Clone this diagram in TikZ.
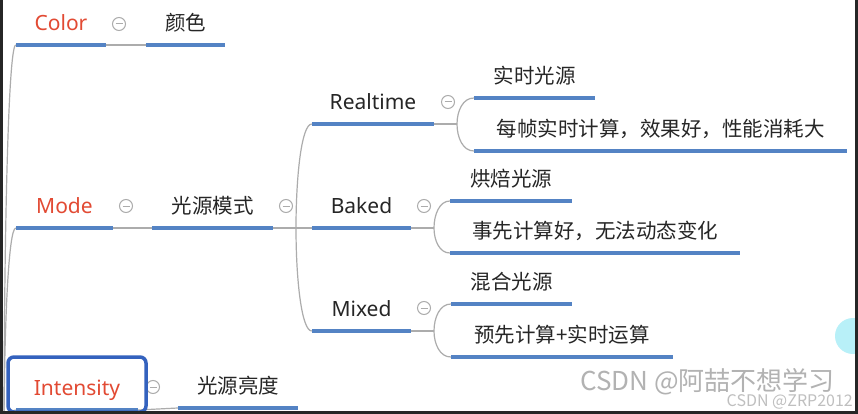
\documentclass[tikz,border=0pt]{standalone}
\usepackage{fontspec}
\setmainfont{Noto Sans}
\newfontfamily\cjk{Noto Sans CJK SC}
\usepackage{tikz}
\usetikzlibrary{positioning, calc}

\definecolor{topicred}{RGB}{226,74,51}
\definecolor{lineblue}{RGB}{84,131,196}
\definecolor{branchgray}{RGB}{172,172,172}
\definecolor{selblue}{RGB}{52,98,190}
\definecolor{hintcyan}{RGB}{184,240,248}

\begin{document}
\begin{tikzpicture}[x=1pt, y=-1pt,
    topic/.style={anchor=south, inner sep=0pt, text height=16pt, text depth=14pt,
      font=\fontsize{21}{24}\selectfont, text=black!85},
    key/.style={topic, text=topicred},
    sub/.style={topic, font=\cjk\fontsize{20.5}{24}\selectfont},
    uline/.style={lineblue, line width=4pt},
    branch/.style={branchgray, line width=1.2pt},
    twig/.style={to path={.. controls ($(\tikztostart)!0.5!(\tikztostart |- \tikztotarget)$)
      and ($(\tikztostart |- \tikztotarget)!0.35!(\tikztotarget)$) .. (\tikztotarget)}},
    fold/.style={circle, draw=branchgray, fill=white, line width=1pt, minimum size=13pt,
      inner sep=0pt, path picture={\draw[branchgray, line width=1pt]
      ([xshift=-3.5pt]path picture bounding box.center) -- ([xshift=3.5pt]path picture bounding box.center);}},
    wmtext/.style={inner sep=0pt, text=black!30, font=\cjk\fontsize{26}{28}\selectfont},
    wmsmall/.style={inner sep=0pt, text=black!25, font=\cjk\fontsize{16}{18}\selectfont}]

    \useasboundingbox (0,0) rectangle (858,414);
    \clip (0,0) rectangle (858,414);
    \fill[white] (0,0) rectangle (858,414);

    % Ветки первого уровня
    \node[key, minimum width=90] (color) at (61,45) {Color};
    \node[sub, minimum width=79] (yanse) at (185.5,45) {颜色};
    \node[key, minimum width=97] (mode) at (64.5,228) {Mode};
    \node[sub, minimum width=121] (gyms) at (212.5,228) {光源模式};
    \node[key, minimum width=122] (intensity) at (77,410) {Intensity};
    \node[sub, minimum width=120] (gyld) at (238,408) {光源亮度};

    % Режимы
    \node[topic, minimum width=122] (realtime) at (373,124) {Realtime};
    \node[topic, minimum width=99] (baked) at (361.5,228) {Baked};
    \node[topic, minimum width=99] (mixed) at (361.5,331) {Mixed};

    % Пояснения
    \node[sub, minimum width=121] (ssgy) at (534.5,98) {实时光源};
    \node[sub, minimum width=373] (rtdesc) at (660.5,151) {每帧实时计算，效果好，性能消耗大};
    \node[sub, minimum width=122] (hbgy) at (511,201) {烘焙光源};
    \node[sub, minimum width=290] (bkdesc) at (595,253) {事先计算好，无法动态变化};
    \node[sub, minimum width=121] (hhgy) at (511.5,304) {混合光源};
    \node[sub, minimum width=222] (mxdesc) at (562,357) {预先计算+实时运算};

    % Точки ветвления
    \coordinate (root) at (4,440);
    \coordinate (jmode) at (296,228);
    \coordinate (jrt) at (457,124);
    \coordinate (jbk) at (434,228);
    \coordinate (jmx) at (434,331);

    % Связи
    \foreach \n in {color, mode, intensity}
        \draw[branch] (root) to[twig] (\n.south west);
    \draw[branch] (color.south east) -- (yanse.south west);
    \draw[branch] (mode.south east) -- (gyms.south west);
    \draw[branch] (intensity.south east) -- (gyld.south west);
    \draw[branch] (gyms.south east) -- (baked.south west);
    \foreach \n in {realtime, mixed}
        \draw[branch] (jmode) to[twig] (\n.south west);
    \draw[branch] (realtime.south east) -- (jrt);
    \draw[branch] (baked.south east) -- (jbk);
    \draw[branch] (mixed.south east) -- (jmx);
    \foreach \n in {ssgy, rtdesc}
        \draw[branch] (jrt) to[twig] (\n.south west);
    \foreach \n in {hbgy, bkdesc}
        \draw[branch] (jbk) to[twig] (\n.south west);
    \foreach \n in {hhgy, mxdesc}
        \draw[branch] (jmx) to[twig] (\n.south west);

    % Подчёркивания
    \foreach \n in {color, yanse, mode, gyms, intensity, gyld, realtime, baked, mixed,
                    ssgy, rtdesc, hbgy, bkdesc, hhgy, mxdesc}
        \draw[uline] (\n.south west) -- (\n.south east);

    % Кнопки сворачивания
    \foreach \x/\y/\n in {119/24/fcolor, 126/206/fmode, 286/206/fgyms, 448/102/frt,
                          424/206/fbk, 424/308/fmx, 153/387/fint}
        \node[fold] (\n) at (\x,\y) {};

    % Выделение Intensity
    \draw[selblue, line width=3.5pt, rounded corners=6pt] (8,357) rectangle (146,412);

    % Водяные знаки
    \fill[hintcyan] (853,336) circle (18pt);
    \node[wmtext, anchor=west] (wmname) at (580,382) {CSDN @阿喆不想学习};
    \node[wmsmall, anchor=east] (wmuser) at (853,402) {CSDN @ZRP2012};

    % Рамка окна
    \fill[black!85] (0,0) rectangle (3,414);
    \fill[black!85] (855,0) rectangle (858,414);
    \fill[black!85] (0,411) rectangle (858,414);
\end{tikzpicture}
\end{document}
